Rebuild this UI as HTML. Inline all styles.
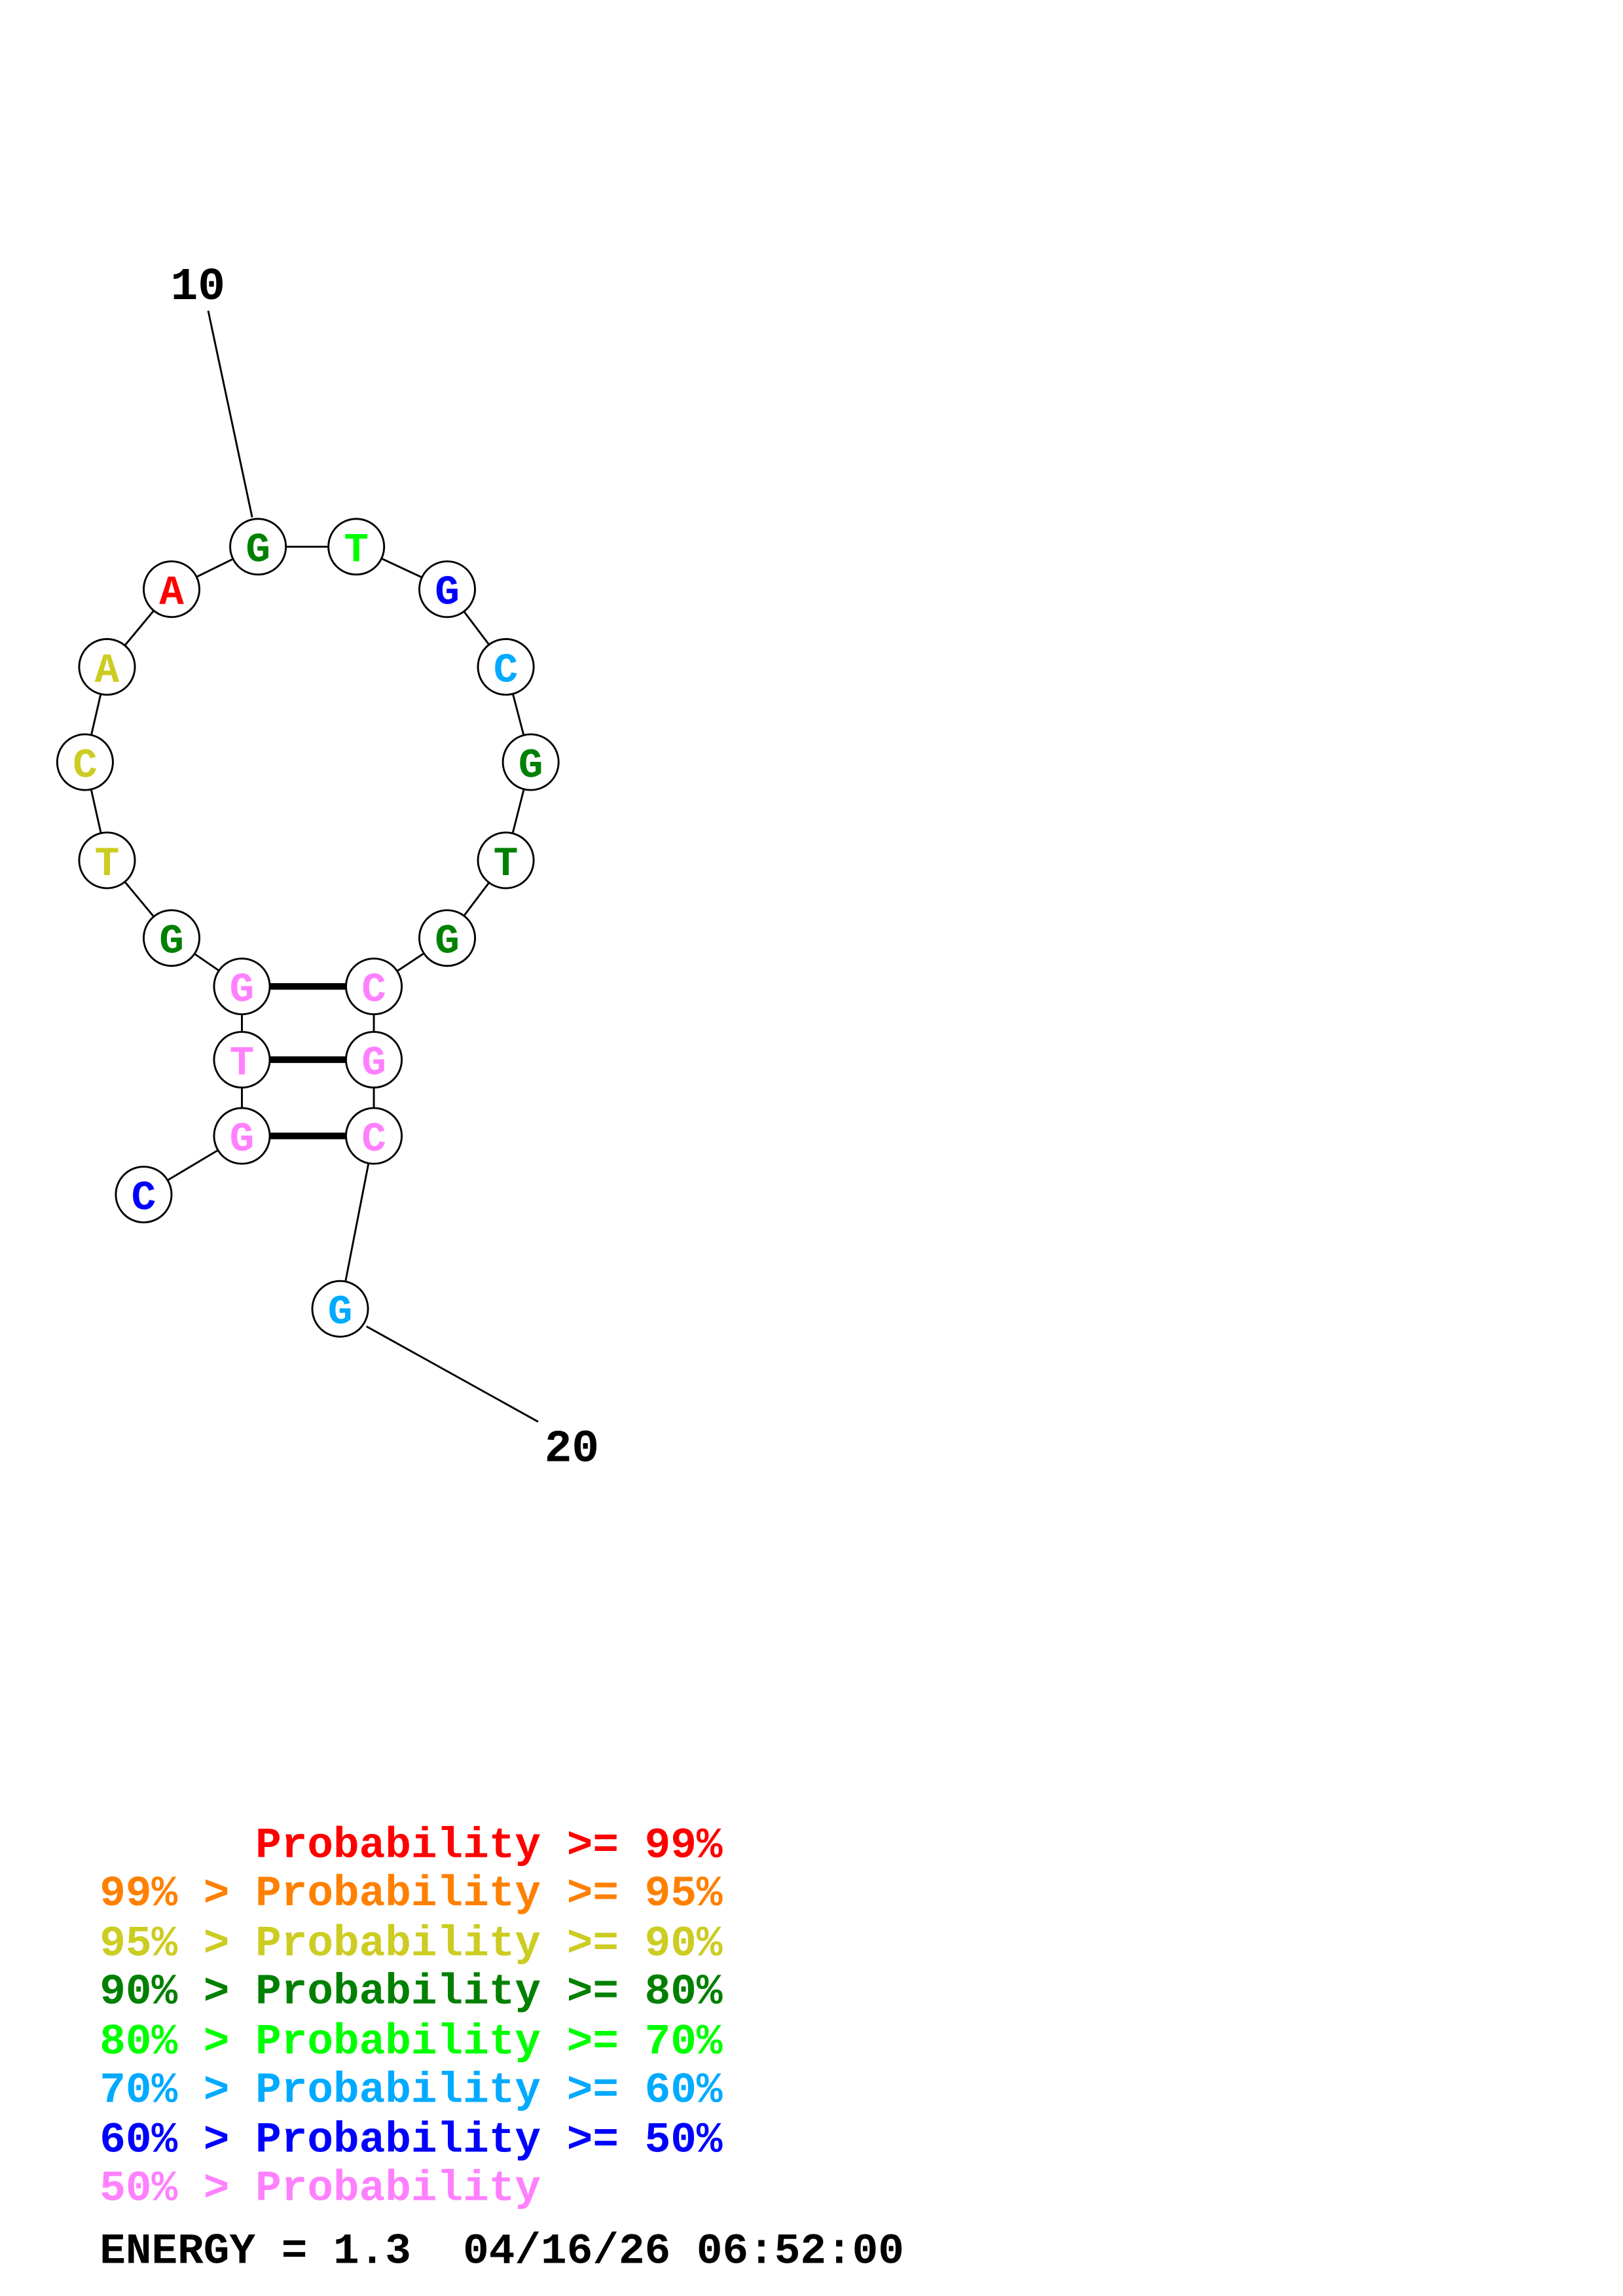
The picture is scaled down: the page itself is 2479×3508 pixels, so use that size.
<!DOCTYPE html>
<html><head><meta charset="utf-8"><style>
html,body{margin:0;padding:0;background:#fff;}
svg{display:block}
text{font-family:"Liberation Mono",monospace;font-weight:bold;}
</style></head><body>
<svg width="2479" height="3508" viewBox="0 0 1107 1566.5" xmlns="http://www.w3.org/2000/svg">
<rect width="1107" height="1566.5" fill="#fff"/>
<g stroke="#000" stroke-width="1.3" fill="none">
<line x1="142" y1="212" x2="172" y2="353"/>
<line x1="250" y1="905" x2="367" y2="970"/>
<polyline points="98,815 165,775 165,723 165,673 117,640 73,587 58,520 73,455 117,402 176,373 243,373 305,402 345,455 362,520 345,587 305,640 255,673 255,723 255,775 232,893"/>
</g>
<g stroke="#000" stroke-width="4.5">
<line x1="165" y1="673" x2="255" y2="673"/>
<line x1="165" y1="723" x2="255" y2="723"/>
<line x1="165" y1="775" x2="255" y2="775"/>
</g>
<g stroke="#000" stroke-width="1.3" fill="#fff">
<circle cx="176" cy="373" r="19"/><circle cx="243" cy="373" r="19"/><circle cx="305" cy="402" r="19"/>
<circle cx="345" cy="455" r="19"/><circle cx="362" cy="520" r="19"/><circle cx="345" cy="587" r="19"/>
<circle cx="305" cy="640" r="19"/><circle cx="255" cy="673" r="19"/><circle cx="255" cy="723" r="19"/>
<circle cx="255" cy="775" r="19"/><circle cx="165" cy="775" r="19"/><circle cx="165" cy="723" r="19"/>
<circle cx="165" cy="673" r="19"/><circle cx="117" cy="640" r="19"/><circle cx="73" cy="587" r="19"/>
<circle cx="58" cy="520" r="19"/><circle cx="73" cy="455" r="19"/><circle cx="117" cy="402" r="19"/>
<circle cx="98" cy="815" r="19"/><circle cx="232" cy="893" r="19"/>
</g>
<g font-size="28" text-anchor="middle">
<text x="176" y="383" fill="#008000">G</text>
<text x="243" y="383" fill="#00ff00">T</text>
<text x="305" y="412" fill="#0000ff">G</text>
<text x="345" y="465" fill="#00aaff">C</text>
<text x="362" y="530" fill="#008000">G</text>
<text x="345" y="597" fill="#008000">T</text>
<text x="305" y="650" fill="#008000">G</text>
<text x="255" y="683" fill="#ff80ff">C</text>
<text x="255" y="733" fill="#ff80ff">G</text>
<text x="255" y="785" fill="#ff80ff">C</text>
<text x="165" y="785" fill="#ff80ff">G</text>
<text x="165" y="733" fill="#ff80ff">T</text>
<text x="165" y="683" fill="#ff80ff">G</text>
<text x="117" y="650" fill="#008000">G</text>
<text x="73" y="597" fill="#cccc22">T</text>
<text x="58" y="530" fill="#cccc22">C</text>
<text x="73" y="465" fill="#cccc22">A</text>
<text x="117" y="412" fill="#ff0000">A</text>
<text x="98" y="825" fill="#0000ff">C</text>
<text x="232" y="903" fill="#00aaff">G</text>
<text x="135" y="204" fill="#000" font-size="31">10</text>
<text x="390" y="997" fill="#000" font-size="31">20</text>
</g>
<g font-size="29.5">
<text x="68" y="1267" fill="#ff0000" xml:space="preserve">      Probability &gt;= 99%</text>
<text x="68" y="1300" fill="#ff8000">99% &gt; Probability &gt;= 95%</text>
<text x="68" y="1334" fill="#cccc22">95% &gt; Probability &gt;= 90%</text>
<text x="68" y="1367" fill="#008000">90% &gt; Probability &gt;= 80%</text>
<text x="68" y="1401" fill="#00ff00">80% &gt; Probability &gt;= 70%</text>
<text x="68" y="1434" fill="#00aaff">70% &gt; Probability &gt;= 60%</text>
<text x="68" y="1468" fill="#0000ff">60% &gt; Probability &gt;= 50%</text>
<text x="68" y="1501" fill="#ff80ff">50% &gt; Probability</text>
<text x="68" y="1544" fill="#000" xml:space="preserve">ENERGY = 1.3  04/16/26 06:52:00</text>
</g>
</svg>
</body></html>
